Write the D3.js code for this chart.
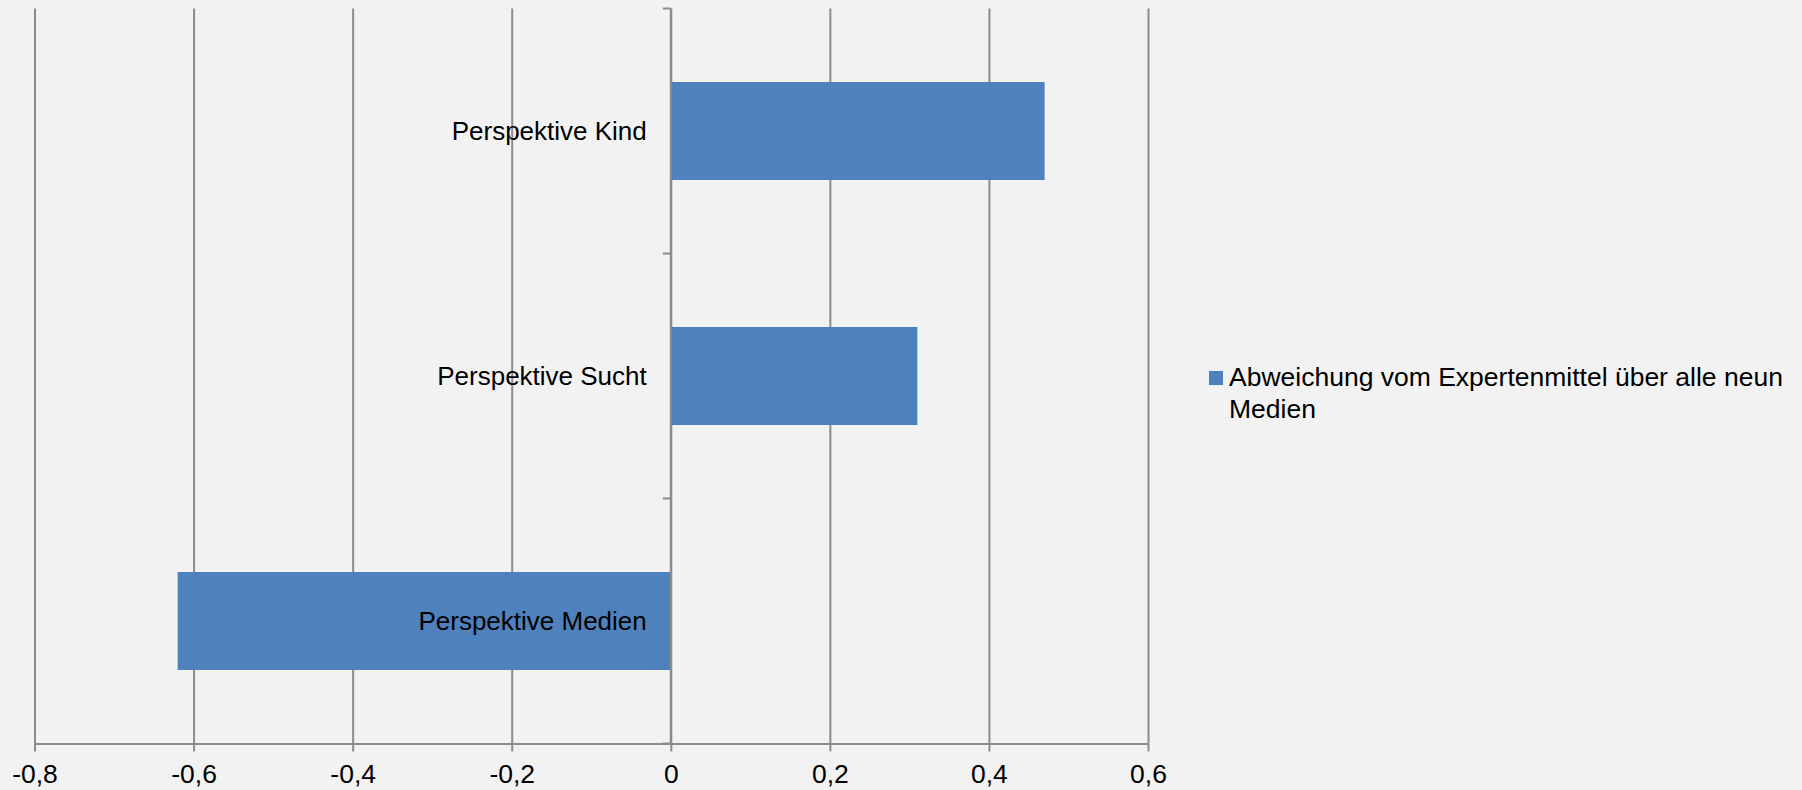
<!DOCTYPE html>
<html>
<head>
<meta charset="utf-8">
<script src="https://cdn.jsdelivr.net/npm/d3@7"></script>
<style>
  html, body { margin: 0; padding: 0; background: #f2f2f2; }
  svg { display: block; }
  text { font-family: "Liberation Sans", Arial, sans-serif; fill: #000; }
</style>
</head>
<body>
<svg id="chart" width="1802" height="790"></svg>
<script>
// Deviation from the expert mean, per perspective
const categories = ["Perspektive Kind", "Perspektive Sucht", "Perspektive Medien"];
const values = [0.47, 0.31, -0.62];
const seriesName = "Abweichung vom Expertenmittel über alle neun Medien";
const legendLines = ["Abweichung vom Expertenmittel über alle neun", "Medien"];
const xTicks = [-0.8, -0.6, -0.4, -0.2, 0, 0.2, 0.4, 0.6];

const W = 1802, H = 790;
const plot = { left: 34.5, right: 1148, top: 8.5, bottom: 743.5 };
const gridColor = "#8c8c8c";
const barColor = "#4f81bd";

const svg = d3.select("#chart");
svg.append("rect").attr("width", W).attr("height", H).attr("fill", "#f2f2f2");

const x = d3.scaleLinear().domain([-0.8, 0.6]).range([plot.left, plot.right]);
const y = d3.scaleBand().domain(categories)
  .range([plot.top, plot.bottom])
  .paddingInner(0.6).paddingOuter(0.3);

// Decimal comma, plain hyphen minus
const fmt = v => {
  const r = Math.round(v * 10) / 10;
  return r === 0 ? "0" : String(r).replace(".", ",");
};

// Vertical gridlines
const grid = svg.append("g")
  .attr("transform", `translate(0,${plot.bottom})`)
  .call(d3.axisBottom(x).tickValues(xTicks).tickSize(-(plot.bottom - plot.top)).tickFormat(""));
grid.select(".domain").remove();
grid.selectAll(".tick line").attr("stroke", gridColor).attr("stroke-width", 2);

// Bottom value axis
const xAxis = svg.append("g")
  .attr("transform", `translate(0,${plot.bottom})`)
  .call(d3.axisBottom(x).tickValues(xTicks).tickSize(8).tickSizeOuter(0).tickPadding(13).tickFormat(fmt));
xAxis.select(".domain").attr("stroke", gridColor).attr("stroke-width", 2);
xAxis.selectAll(".tick line").attr("stroke", gridColor).attr("stroke-width", 2);
xAxis.selectAll(".tick text")
  .attr("font-size", 26.5)
  .attr("font-family", "'Liberation Sans', Arial, sans-serif")
  .attr("fill", "#000");

// Bars
svg.append("g").selectAll("rect")
  .data(categories)
  .join("rect")
  .attr("x", (d, i) => x(Math.min(0, values[i])))
  .attr("y", d => y(d))
  .attr("width", (d, i) => Math.abs(x(values[i]) - x(0)))
  .attr("height", y.bandwidth())
  .attr("fill", barColor);

// Category axis at zero, ticks on band boundaries
const x0 = x(0);
svg.append("line")
  .attr("x1", x0).attr("x2", x0)
  .attr("y1", plot.top).attr("y2", plot.bottom)
  .attr("stroke", gridColor).attr("stroke-width", 2);
const step = y.step();
const boundaries = d3.range(categories.length + 1).map(i => plot.top + i * step);
svg.append("g").selectAll("line")
  .data(boundaries)
  .join("line")
  .attr("x1", x0 - 8).attr("x2", x0)
  .attr("y1", d => d).attr("y2", d => d)
  .attr("stroke", gridColor).attr("stroke-width", 2);

// Category labels
svg.append("g").selectAll("text")
  .data(categories)
  .join("text")
  .attr("x", x0 - 24)
  .attr("y", d => y(d) + y.bandwidth() / 2)
  .attr("dy", "0.34em")
  .attr("text-anchor", "end")
  .attr("font-size", 26)
  .text(d => d);

// Legend
const legend = svg.append("g").attr("aria-label", seriesName);
legend.append("rect")
  .attr("x", 1209).attr("y", 371)
  .attr("width", 14).attr("height", 14)
  .attr("fill", barColor);
legend.selectAll("text")
  .data(legendLines)
  .join("text")
  .attr("x", 1229)
  .attr("y", (d, i) => 386 + i * 32)
  .attr("font-size", 26.5)
  .text(d => d);
</script>
</body>
</html>
